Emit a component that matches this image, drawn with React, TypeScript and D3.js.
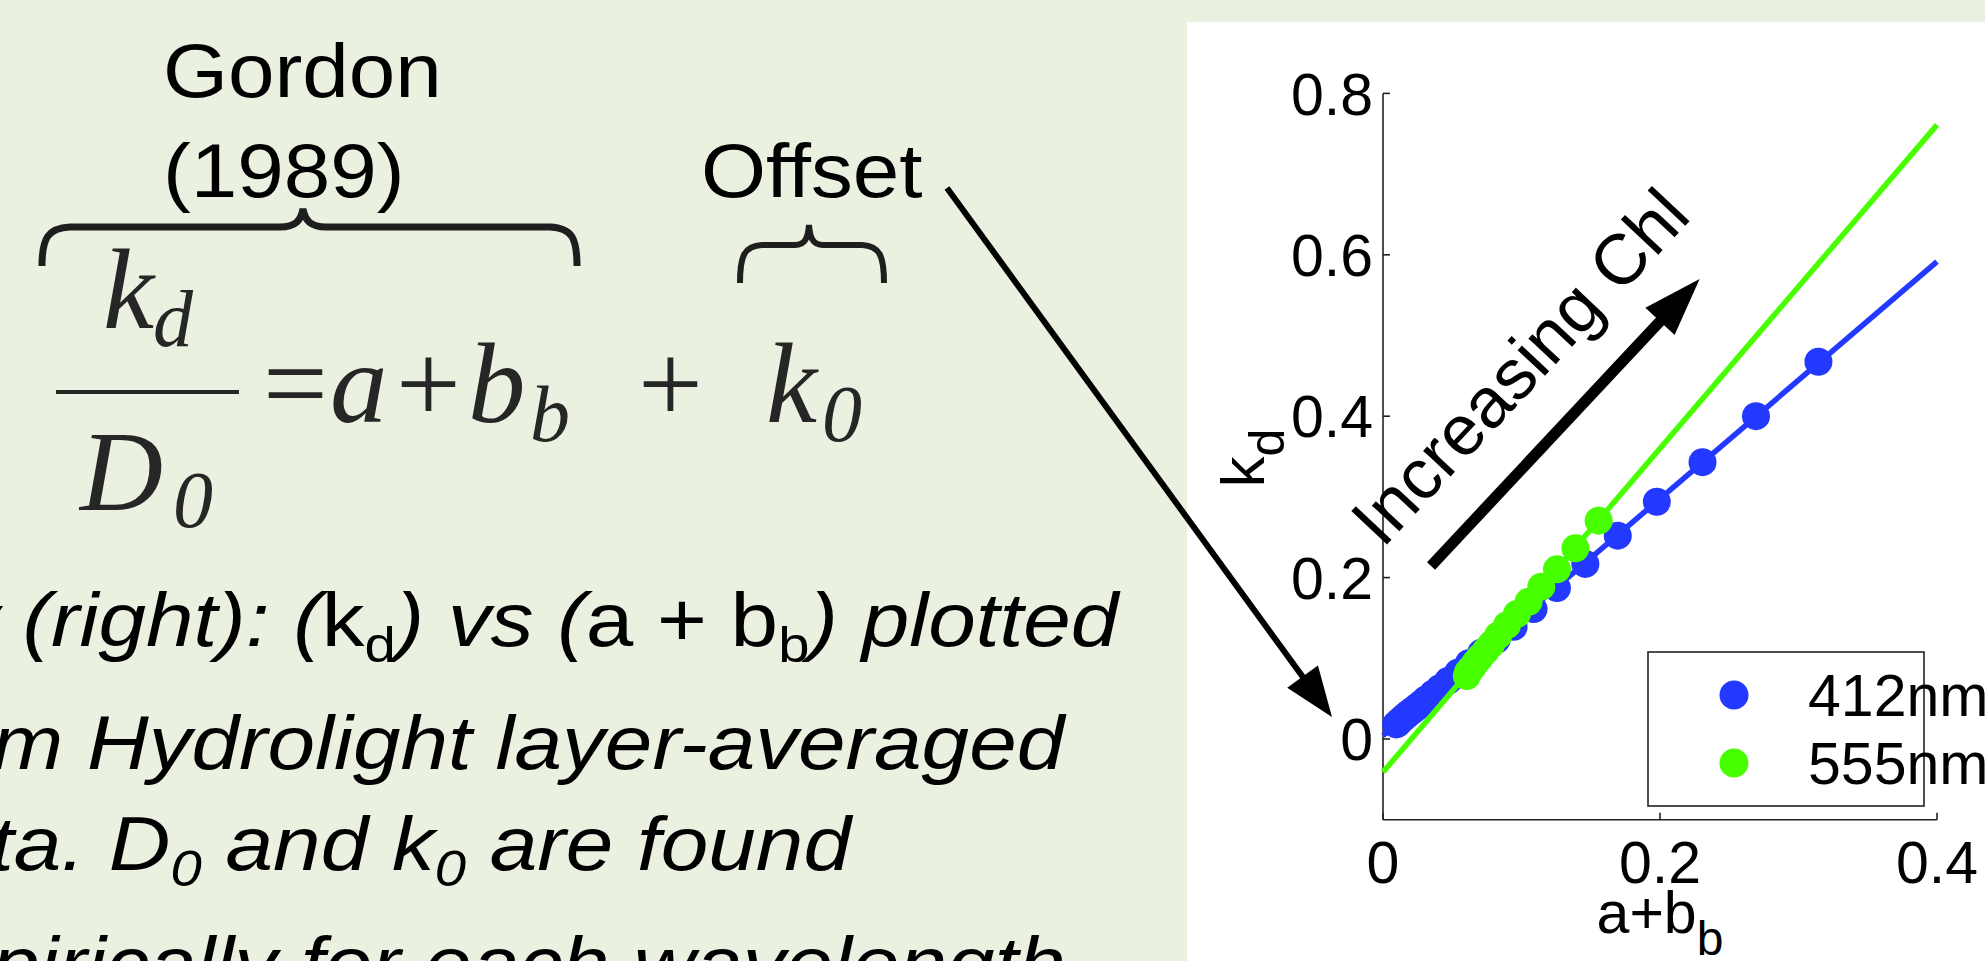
import React from "react";
import * as d3 from "d3";

// tick values
const X_TICKS = [0, 0.2, 0.4];
const Y_TICKS = [0, 0.2, 0.4, 0.6, 0.8];

// 412nm points (a+b_b, k_d)
const blue412: [number, number][] = [
  [0.0095, 0.018], [0.0105, 0.019], [0.012, 0.022], [0.014, 0.025], [0.016, 0.028],
  [0.018, 0.031], [0.021, 0.035], [0.024, 0.039], [0.027, 0.043], [0.031, 0.049],
  [0.036, 0.056], [0.041, 0.063], [0.047, 0.072], [0.054, 0.082], [0.062, 0.094],
  [0.071, 0.107], [0.082, 0.123], [0.0943, 0.139], [0.1087, 0.161], [0.1256, 0.187],
  [0.1461, 0.217], [0.1695, 0.252], [0.1977, 0.294], [0.2307, 0.343], [0.2693, 0.4],
  [0.3144, 0.4675],
];

// 555nm points
const green555: [number, number][] = [
  [0.0605, 0.078], [0.0615, 0.083], [0.063, 0.086], [0.065, 0.09], [0.067, 0.095],
  [0.07, 0.101], [0.074, 0.109], [0.078, 0.117], [0.083, 0.128], [0.0895, 0.141],
  [0.0967, 0.155], [0.1051, 0.17], [0.1143, 0.1887], [0.1256, 0.2103], [0.1389, 0.2363],
  [0.1557, 0.2705],
];

// fitted lines
const fit412: [number, number][] = [[0, 0.004], [0.4, 0.5915]];
const fit555: [number, number][] = [[0, -0.041], [0.4, 0.761]];

const legendItems = [
  { label: "412nm", color: "#2339ff" },
  { label: "555nm", color: "#48ff00" },
];

const BG = "#eaf1e0";
const EQ = "#262626";
const SANS = "'Liberation Sans', Arial, Helvetica, sans-serif";
const SERIF = "'Liberation Serif', 'Times New Roman', serif";

function arrowHead(x1: number, y1: number, x2: number, y2: number, len: number, half: number) {
  const a = Math.atan2(y2 - y1, x2 - x1);
  const bx = x2 - len * Math.cos(a);
  const by = y2 - len * Math.sin(a);
  const px = -Math.sin(a) * half;
  const py = Math.cos(a) * half;
  return `M${x2},${y2}L${bx + px},${by + py}L${bx - px},${by - py}Z`;
}

const App = () => {
  const W = 1985;
  const H = 961;

  const x = d3.scaleLinear().domain([0, 0.4]).range([1383, 1937]);
  const y = d3.scaleLinear().domain([-0.1, 0.8]).range([819.7, 93.4]);

  const line = d3
    .line<[number, number]>()
    .x((d) => x(d[0]))
    .y((d) => y(d[1]));

  // "Increasing Chl" arrow in data coordinates
  const ax1 = x(0.0347), ay1 = y(0.2144);
  const ax2 = x(0.2286), ay2 = y(0.57);
  const angle = (Math.atan2(ay2 - ay1, ax2 - ax1) * 180) / Math.PI;

  // "Offset" arrow (page coordinates, spans both panels)
  const ox1 = 947, oy1 = 188, ox2 = 1332, oy2 = 717;
  const oa = Math.atan2(oy2 - oy1, ox2 - ox1);

  const sx = 1.1; // slide labels are stretched horizontally
  const sxt = 1.125; // paragraph lines
  const fs = 76;

  return (
    <svg
      width={W}
      height={H}
      style={{ position: "absolute", left: 0, top: 0 }}
      fontFamily={SANS}
    >
      <rect x={0} y={0} width={W} height={H} fill={BG} />

      {/* labels above the equation */}
      <text transform={`translate(163,97) scale(${sx},1)`} fontSize={fs}>Gordon</text>
      <text transform={`translate(163,197) scale(${sx},1)`} fontSize={fs}>(1989)</text>
      <text transform={`translate(701,197) scale(${sx},1)`} fontSize={fs}>Offset</text>

      {/* braces */}
      <path
        d="M42,266 C42,238 48,228 70,227 L280,227 C296,227 301,220 303,209 C305,220 310,227 326,227 L550,227 C572,228 577,238 577,266"
        fill="none" stroke="#1e1e1e" strokeWidth={7}
      />
      <path
        d="M740,283 C740,256 744,246 762,245 L795,245 C805,245 808,238 809,225 C810,238 813,245 823,245 L862,245 C880,246 884,256 884,283"
        fill="none" stroke="#1e1e1e" strokeWidth={6}
      />

      {/* equation */}
      <g fill={EQ} fontFamily={SERIF} fontSize={115}>
        <text x={103} y={328} fontStyle="italic">k</text>
        <text x={153} y={346} fontStyle="italic" fontSize={80}>d</text>
        <line x1={56} x2={239} y1={392} y2={392} stroke={EQ} strokeWidth={4} />
        <text x={80} y={510} fontStyle="italic">D</text>
        <text x={173} y={527} fontStyle="italic" fontSize={80}>0</text>
        <text x={263} y={422}>=</text>
        <text x={330} y={422} fontStyle="italic">a</text>
        <text x={396} y={422}>+</text>
        <text x={468} y={422} fontStyle="italic">b</text>
        <text x={530} y={441} fontStyle="italic" fontSize={80}>b</text>
        <text x={638} y={422}>+</text>
        <text x={766} y={422} fontStyle="italic">k</text>
        <text x={822} y={441} fontStyle="italic" fontSize={80}>0</text>
      </g>

      {/* description text */}
      <g fontSize={fs} fill="#000">
        <text transform={`translate(-44,646) scale(${sxt},1)`}>
          <tspan fontStyle="italic">y (right): (</tspan>
          <tspan>k</tspan>
          <tspan fontSize={50} dy={16}>d</tspan>
          <tspan fontStyle="italic" dy={-16}>) vs (</tspan>
          <tspan>a + b</tspan>
          <tspan fontSize={50} dy={16}>b</tspan>
          <tspan fontStyle="italic" dy={-16}>) plotted</tspan>
        </text>
        <text transform={`translate(-8,769) scale(${sxt},1)`} fontStyle="italic">
          m Hydrolight layer-averaged
        </text>
        <text transform={`translate(-10,870) scale(${sxt},1)`} fontStyle="italic">
          <tspan>ta. D</tspan>
          <tspan fontSize={50} dy={16}>0</tspan>
          <tspan dy={-16}> and k</tspan>
          <tspan fontSize={50} dy={16}>0</tspan>
          <tspan dy={-16}> are found</tspan>
        </text>
        <text transform={`translate(-8,990) scale(${sxt},1)`} fontStyle="italic">
          pirically for each wavelength
        </text>
      </g>

      {/* chart panel */}
      <rect x={1187} y={22} width={W - 1187} height={H - 22} fill="#fff" />

      {/* axes */}
      <g stroke="#222" strokeWidth={1.6} fill="none">
        <line x1={x(0)} x2={x(0)} y1={y(0.8)} y2={y(-0.1)} />
        <line x1={x(0)} x2={x(0.4)} y1={y(-0.1)} y2={y(-0.1)} />
        {Y_TICKS.map((t) => (
          <line key={"yt" + t} x1={x(0)} x2={x(0) + 7} y1={y(t)} y2={y(t)} />
        ))}
        {X_TICKS.map((t) => (
          <line key={"xt" + t} x1={x(t)} x2={x(t)} y1={y(-0.1)} y2={y(-0.1) - 7} />
        ))}
      </g>
      <g fontSize={59} fill="#000">
        {Y_TICKS.map((t) => (
          <text key={"yl" + t} x={x(0) - 10} y={y(t)} dy="0.36em" textAnchor="end">
            {String(t)}
          </text>
        ))}
        {X_TICKS.map((t) => (
          <text key={"xl" + t} x={x(t)} y={883} textAnchor="middle">
            {String(t)}
          </text>
        ))}
        <text x={x(0.2)} y={933} textAnchor="middle">
          <tspan>a+b</tspan>
          <tspan fontSize={48} dy={22}>b</tspan>
        </text>
        <text transform={`translate(1264,458) rotate(-90)`} textAnchor="middle" fontSize={62}>
          <tspan>k</tspan>
          <tspan fontSize={50} dy={20}>d</tspan>
        </text>
      </g>

      {/* fits and points */}
      <path d={line(fit412) ?? ""} fill="none" stroke={legendItems[0].color} strokeWidth={5.5} />
      {blue412.map((d, i) => (
        <circle key={"b" + i} cx={x(d[0])} cy={y(d[1])} r={14} fill={legendItems[0].color} />
      ))}
      <path d={line(fit555) ?? ""} fill="none" stroke={legendItems[1].color} strokeWidth={5.5} />
      {green555.map((d, i) => (
        <circle key={"g" + i} cx={x(d[0])} cy={y(d[1])} r={14} fill={legendItems[1].color} />
      ))}

      {/* Increasing Chl arrow */}
      <line
        x1={ax1} y1={ay1}
        x2={ax2 - 40 * Math.cos((angle * Math.PI) / 180)}
        y2={ay2 - 40 * Math.sin((angle * Math.PI) / 180)}
        stroke="#000" strokeWidth={11}
      />
      <path d={arrowHead(ax1, ay1, ax2, ay2, 58, 20)} fill="#000" />
      <text
        transform={`translate(1519,366) rotate(${angle})`}
        textAnchor="middle" dy="0.36em" fontSize={71}
      >
        Increasing Chl
      </text>

      {/* legend */}
      <rect x={1648} y={652} width={276} height={154} fill="none" stroke="#222" strokeWidth={1.6} />
      {legendItems.map((item, i) => (
        <g key={item.label}>
          <circle cx={1734} cy={695 + i * 68} r={14.5} fill={item.color} />
          <text x={1808} y={716 + i * 68} fontSize={59}>{item.label}</text>
        </g>
      ))}

      {/* Offset arrow */}
      <line
        x1={ox1} y1={oy1}
        x2={ox2 - 30 * Math.cos(oa)}
        y2={oy2 - 30 * Math.sin(oa)}
        stroke="#000" strokeWidth={6}
      />
      <path d={arrowHead(ox1, oy1, ox2, oy2, 50, 19)} fill="#000" />
    </svg>
  );
};

export default App;
